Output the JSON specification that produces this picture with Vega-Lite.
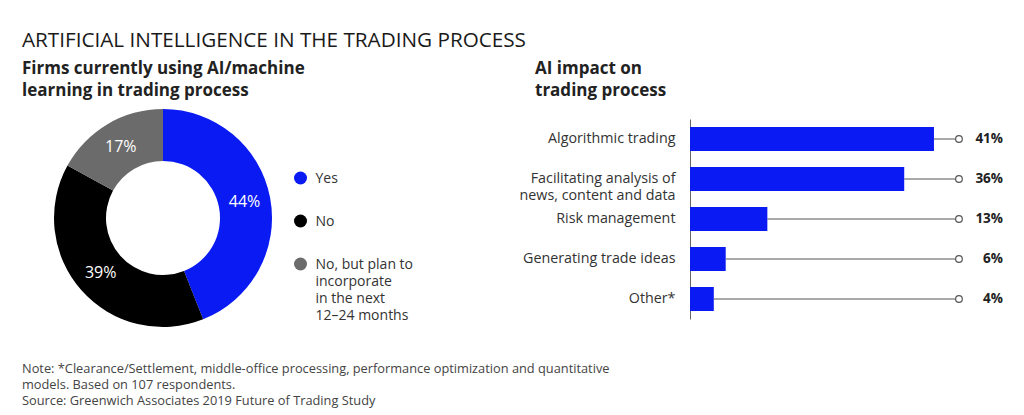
{
  "$schema": "https://vega.github.io/schema/vega-lite/v6.json",
  "background": "white",
  "padding": {"left": 22, "top": 29, "right": 20, "bottom": 4},
  "config": {
    "view": {"stroke": null},
    "font": "Open Sans",
    "title": {"font": "Open Sans"}
  },
  "title": {
    "text": "ARTIFICIAL INTELLIGENCE IN THE TRADING PROCESS",
    "anchor": "start",
    "fontSize": 20.7,
    "fontWeight": "normal",
    "color": "#1a1a1a",
    "offset": 9
  },
  "vconcat": [
    {
      "title": {
        "text": [
          "Note: *Clearance/Settlement, middle-office processing, performance optimization and quantitative",
          "models. Based on 107 respondents.",
          "Source: Greenwich Associates 2019 Future of Trading Study"
        ],
        "orient": "bottom",
        "anchor": "start",
        "fontSize": 12.8,
        "fontWeight": "normal",
        "color": "#444",
        "lineHeight": 16,
        "offset": 36
      },
      "spacing": 214,
      "hconcat": [
        {
          "width": 282,
          "height": 198,
          "title": {
            "text": ["Firms currently using AI/machine", "learning in trading process"],
            "anchor": "start",
            "fontSize": 17,
            "fontWeight": "bold",
            "color": "#222",
            "lineHeight": 21.6,
            "offset": 9
          },
          "data": {
            "values": [
              {"answer": "Yes", "share": 44, "ord": 1, "label": "44%"},
              {"answer": "No", "share": 39, "ord": 2, "label": "39%"},
              {"answer": "No, but plan to|incorporate|in the next|12–24 months", "share": 17, "ord": 3, "label": "17%"}
            ]
          },
          "encoding": {
            "theta": {"field": "share", "type": "quantitative", "stack": true},
            "order": {"field": "ord", "type": "quantitative"}
          },
          "layer": [
            {
              "mark": {"type": "arc", "innerRadius": 57, "outerRadius": 109},
              "encoding": {
                "color": {
                  "field": "answer",
                  "type": "nominal",
                  "sort": null,
                  "scale": {
                    "domain": ["Yes", "No", "No, but plan to|incorporate|in the next|12–24 months"],
                    "range": ["#0a1af2", "#000000", "#6b6b6b"]
                  },
                  "legend": {
                    "title": null,
                    "orient": "none",
                    "legendX": 271.5,
                    "legendY": 52,
                    "padding": 0,
                    "symbolType": "circle",
                    "symbolSize": 169,
                    "symbolStrokeWidth": 0,
                    "symbolOpacity": 1,
                    "labelFontSize": 14,
                    "labelColor": "#333",
                    "labelOffset": 8,
                    "labelLimit": 300,
                    "labelBaseline": "alphabetic",
                    "rowPadding": 28,
                    "labelExpr": "split(datum.label, '|')",
                    "encode": {
                      "labels": {"update": {"dy": {"value": 5}, "lineHeight": {"value": 17}}}
                    }
                  }
                }
              }
            },
            {
              "mark": {"type": "text", "radius": 83, "fontSize": 16, "color": "white"},
              "encoding": {"text": {"field": "label", "type": "nominal"}}
            }
          ]
        },
        {
          "width": 313,
          "height": 200,
          "title": {
            "text": ["AI impact on", "trading process"],
            "anchor": "start",
            "frame": "group",
            "dx": -155,
            "fontSize": 17,
            "fontWeight": "bold",
            "color": "#222",
            "lineHeight": 21.6,
            "offset": 19
          },
          "data": {
            "values": [
              {"use": "Algorithmic trading", "pct": 41, "label": "41%"},
              {"use": "Facilitating analysis of|news, content and data", "pct": 36, "label": "36%"},
              {"use": "Risk management", "pct": 13, "label": "13%"},
              {"use": "Generating trade ideas", "pct": 6, "label": "6%"},
              {"use": "Other*", "pct": 4, "label": "4%"}
            ]
          },
          "encoding": {
            "y": {
              "field": "use",
              "type": "nominal",
              "sort": null,
              "scale": {"paddingInner": 0.4, "paddingOuter": 0.2},
              "axis": {
                "title": null,
                "ticks": false,
                "domainColor": "#666",
                "labelFontSize": 14.3,
                "labelColor": "#333",
                "labelPadding": 15,
                "labelLimit": 300,
                "labelExpr": "split(datum.label, '|')",
                "labelLineHeight": 17.2
              }
            }
          },
          "layer": [
            {
              "mark": {"type": "rule", "color": "#555", "strokeWidth": 1},
              "encoding": {
                "x": {"field": "pct", "type": "quantitative", "scale": {"domain": [0, 52.6], "nice": false}, "axis": null},
                "x2": {"datum": 45.2}
              }
            },
            {
              "mark": {"type": "bar", "color": "#0a1af2"},
              "encoding": {
                "x": {"field": "pct", "type": "quantitative", "axis": null}
              }
            },
            {
              "mark": {"type": "point", "shape": "circle", "filled": false, "fill": "white", "fillOpacity": 1, "stroke": "#555", "strokeWidth": 1.2, "size": 45, "opacity": 1},
              "encoding": {
                "x": {"datum": 45.2, "type": "quantitative", "axis": null}
              }
            },
            {
              "mark": {"type": "text", "align": "right", "fontSize": 13.5, "fontWeight": "bold", "color": "#222"},
              "encoding": {
                "x": {"datum": 52.6, "type": "quantitative", "axis": null},
                "text": {"field": "label", "type": "nominal"}
              }
            }
          ]
        }
      ]
    }
  ]
}
